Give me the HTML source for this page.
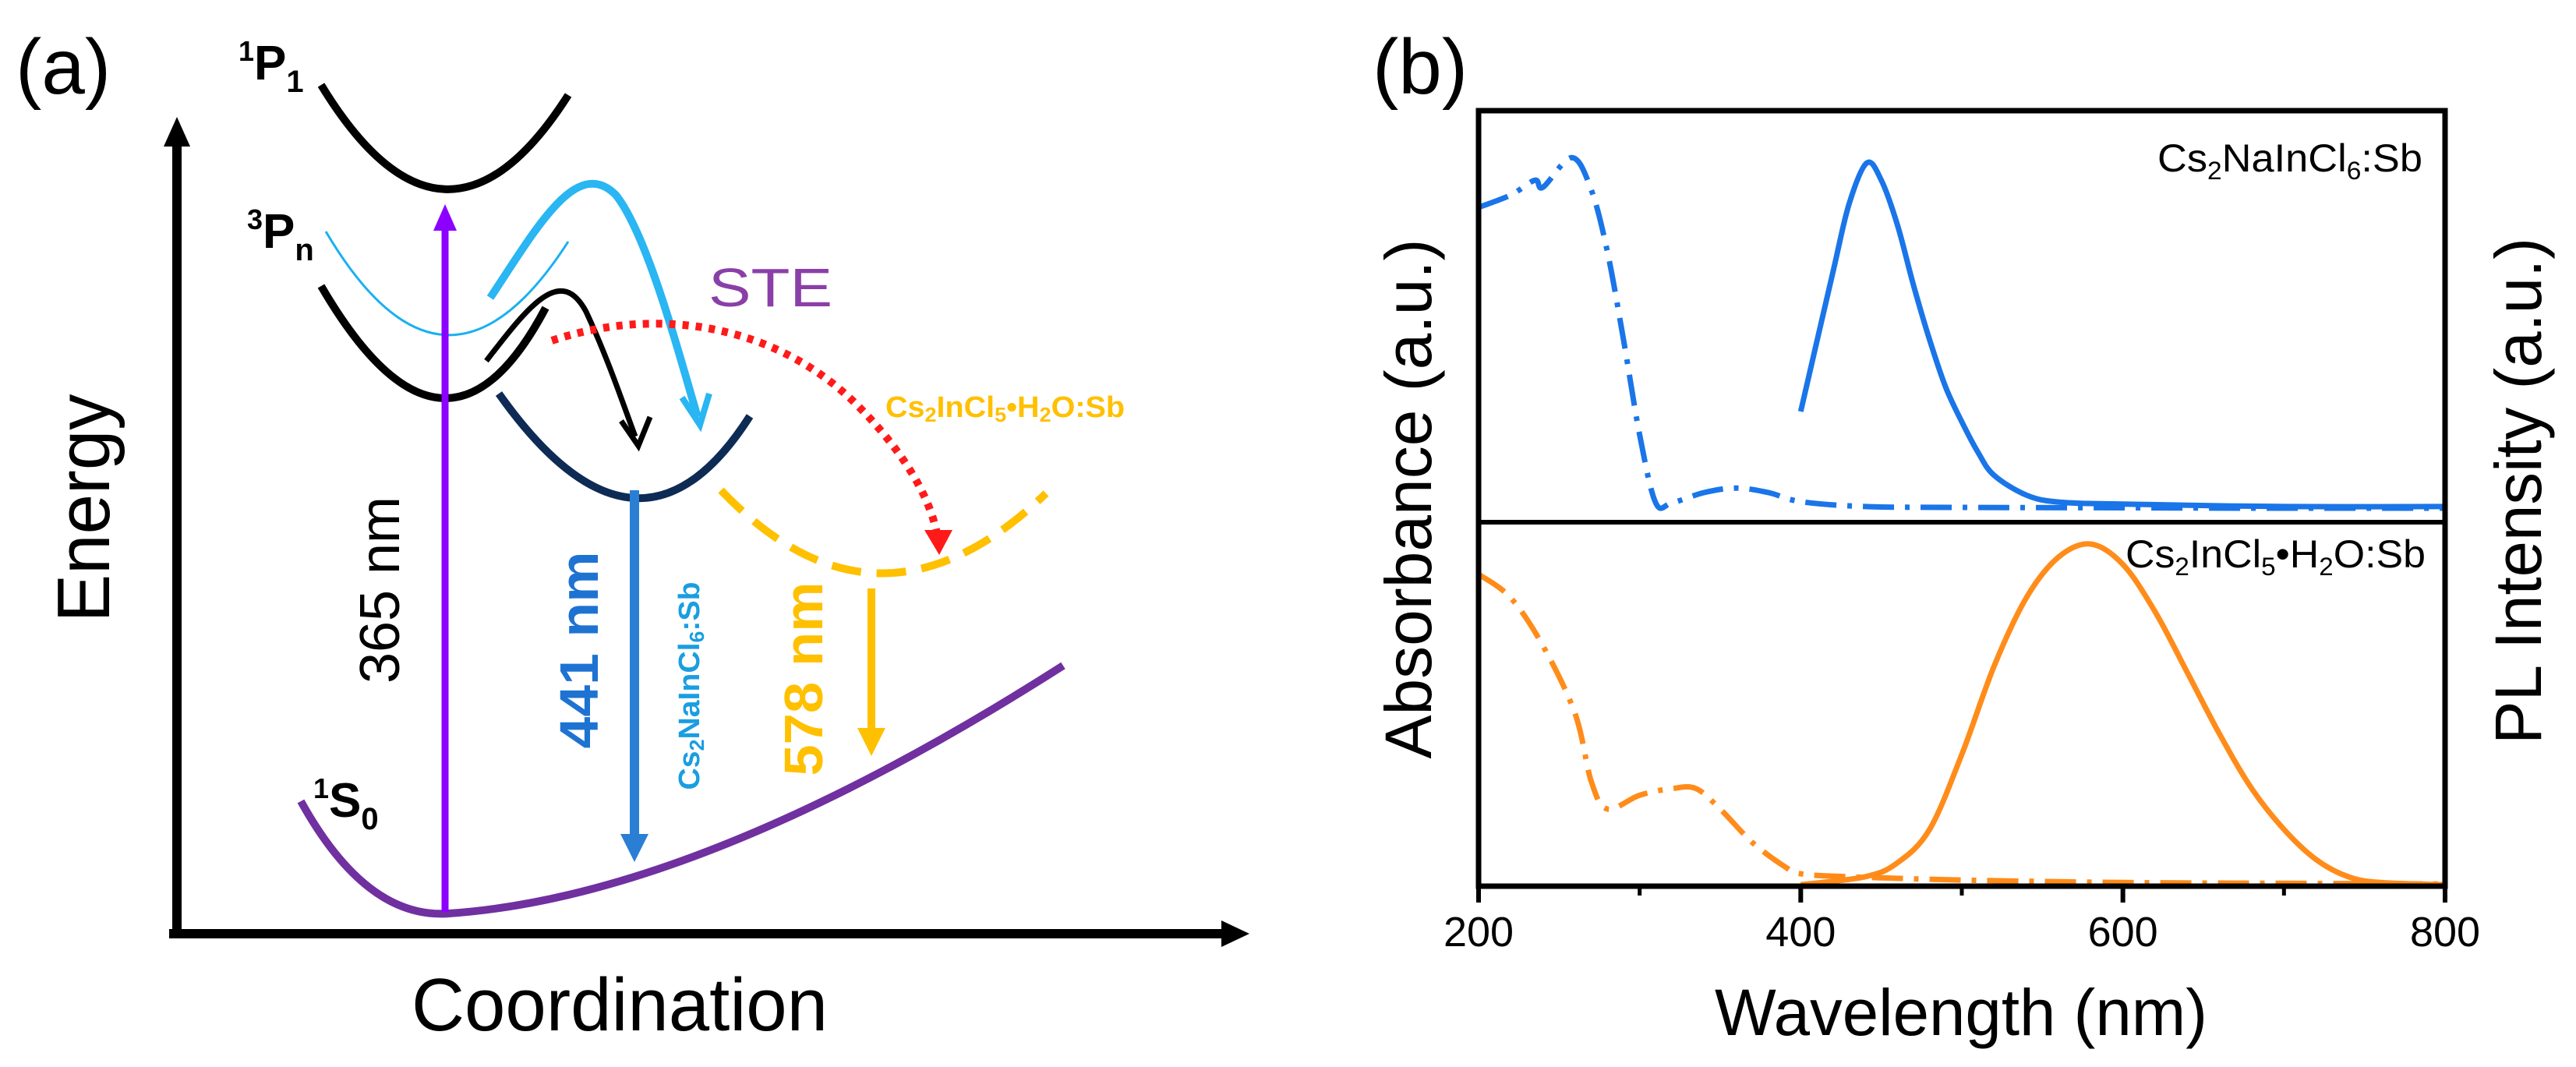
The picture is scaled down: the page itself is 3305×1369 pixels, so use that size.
<!DOCTYPE html>
<html><head><meta charset="utf-8"><style>
html,body{margin:0;padding:0;background:#fff}
svg{display:block}
text{font-family:"Liberation Sans",sans-serif}
</style></head><body>
<svg id="fig" width="3305" height="1369" viewBox="0 0 3305 1369" xmlns="http://www.w3.org/2000/svg">
<defs>
<filter id="glow" x="-50%" y="-10%" width="200%" height="120%"><feGaussianBlur stdDeviation="4"/></filter>
</defs>
<g>
<text x="20" y="120" font-size="100">(a)</text>
<line x1="227" y1="1198" x2="227" y2="180" stroke="#000" stroke-width="12"/>
<polygon points="227,150 210,188 244,188" fill="#000"/>
<line x1="217" y1="1198" x2="1570" y2="1198" stroke="#000" stroke-width="12"/>
<polygon points="1603,1198 1567,1181 1567,1215" fill="#000"/>
<text transform="translate(140,652) rotate(-90)" text-anchor="middle" font-size="96" textLength="293" lengthAdjust="spacingAndGlyphs">Energy</text>
<text x="795" y="1322" text-anchor="middle" font-size="96" textLength="534" lengthAdjust="spacingAndGlyphs">Coordination</text>

<path d="M412,109 Q571,370 729,122" fill="none" stroke="#000" stroke-width="10"/>
<text x="306" y="102" font-size="62" font-weight="bold"><tspan font-size="36" dy="-24">1</tspan><tspan dy="24">P</tspan><tspan font-size="40" dy="16">1</tspan></text>
<path d="M418,297 Q571,556 729,310" fill="none" stroke="#19b0f0" stroke-width="3"/>
<text x="317" y="318" font-size="62" font-weight="bold"><tspan font-size="36" dy="-24">3</tspan><tspan dy="24">P</tspan><tspan font-size="40" dy="16">n</tspan></text>
<path d="M412,367 Q571,640 700,395" fill="none" stroke="#000" stroke-width="10"/>
<path d="M624,463 C680,390 720,340 752,400 C780,460 800,520 815,560" fill="none" stroke="#000" stroke-width="7"/>
<polyline points="797,540 819,572 834,535" fill="none" stroke="#000" stroke-width="7"/>
<path d="M629,382 C690,290 740,200 790,250 C830,300 870,450 895,535" fill="none" stroke="#29b6f2" stroke-width="10"/>
<polyline points="875,510 898,545 910,505" fill="none" stroke="#29b6f2" stroke-width="8"/>
<path d="M640,505 Q819,758 962,534" fill="none" stroke="#0d2b55" stroke-width="10"/>
<path d="M708,437 C850,390 1000,420 1100,520 C1160,580 1195,640 1203,690" fill="none" stroke="#ff1a1a" stroke-width="10" stroke-dasharray="8 9"/>
<polygon points="1205,712 1186,680 1222,680" fill="#ff1a1a"/>
<path d="M925,629 Q1126,840 1342,633" fill="none" stroke="#ffc000" stroke-width="10" stroke-dasharray="38 20"/>
<text x="1136" y="535" font-size="38" font-weight="bold" fill="#ffc000" textLength="307" lengthAdjust="spacingAndGlyphs">Cs<tspan font-size="26" dy="6">2</tspan><tspan dy="-6">InCl</tspan><tspan font-size="26" dy="6">5</tspan><tspan dy="-6">•H</tspan><tspan font-size="26" dy="6">2</tspan><tspan dy="-6">O:Sb</tspan></text>
<text x="909" y="393" font-size="70" fill="#8a3fa8" font-family="DejaVu Sans, sans-serif" textLength="159" lengthAdjust="spacingAndGlyphs">STE</text>

<path d="M386,1028 Q470,1180 576,1172 Q900,1150 1364,854" fill="none" stroke="#7030a0" stroke-width="10"/>
<text x="402" y="1048" font-size="62" font-weight="bold"><tspan font-size="36" dy="-24">1</tspan><tspan dy="24">S</tspan><tspan font-size="40" dy="16">0</tspan></text>
<line x1="571" y1="1170" x2="571" y2="290" stroke="#8b00ff" stroke-width="9"/>
<polygon points="571,262 556,296 586,296" fill="#8b00ff"/>
<text transform="translate(512,757) rotate(-90)" text-anchor="middle" font-size="72" textLength="240" lengthAdjust="spacingAndGlyphs">365 nm</text>
<line x1="814" y1="629" x2="814" y2="1080" stroke="#7fb8ff" stroke-width="24" filter="url(#glow)"/>
<line x1="814" y1="629" x2="814" y2="1075" stroke="#2a7fd4" stroke-width="12"/>
<polygon points="814,1106 796,1070 832,1070" fill="#2a7fd4"/>
<text transform="translate(767,834) rotate(-90)" text-anchor="middle" font-size="70" font-weight="bold" fill="#1e73d2" textLength="253" lengthAdjust="spacingAndGlyphs">441 nm</text>
<text transform="translate(897,880) rotate(-90)" text-anchor="middle" font-size="38" font-weight="bold" fill="#1a9ee0" textLength="267" lengthAdjust="spacingAndGlyphs">Cs<tspan font-size="26" dy="6">2</tspan><tspan dy="-6">NaInCl</tspan><tspan font-size="26" dy="6">6</tspan><tspan dy="-6">:Sb</tspan></text>
<line x1="1118" y1="755" x2="1118" y2="950" stroke="#ffe070" stroke-width="22" filter="url(#glow)"/>
<line x1="1118" y1="755" x2="1118" y2="940" stroke="#ffc000" stroke-width="10"/>
<polygon points="1118,970 1100,934 1136,934" fill="#ffc000"/>
<text transform="translate(1055,871) rotate(-90)" text-anchor="middle" font-size="70" font-weight="bold" fill="#ffc000" textLength="249" lengthAdjust="spacingAndGlyphs">578 nm</text>
</g>

<g>
<text x="1761" y="120" font-size="100">(b)</text>
<g id="plot"></g>
<rect x="1897" y="142" width="1240" height="995" fill="none" stroke="#000" stroke-width="7"/>
<line x1="1897" y1="670" x2="3137" y2="670" stroke="#000" stroke-width="6"/>
<g id="ticks"></g>
<text x="3108" y="220" text-anchor="end" font-size="50" textLength="340" lengthAdjust="spacingAndGlyphs">Cs<tspan font-size="32" dy="10">2</tspan><tspan dy="-10">NaInCl</tspan><tspan font-size="32" dy="10">6</tspan><tspan dy="-10">:Sb</tspan></text>
<text x="3112" y="728" text-anchor="end" font-size="50" textLength="385" lengthAdjust="spacingAndGlyphs">Cs<tspan font-size="32" dy="10">2</tspan><tspan dy="-10">InCl</tspan><tspan font-size="32" dy="10">5</tspan><tspan dy="-10">•H</tspan><tspan font-size="32" dy="10">2</tspan><tspan dy="-10">O:Sb</tspan></text>
<text transform="translate(1836,640) rotate(-90)" text-anchor="middle" font-size="84" textLength="667" lengthAdjust="spacingAndGlyphs">Absorbance (a.u.)</text>
<text transform="translate(3260,630) rotate(-90)" text-anchor="middle" font-size="84" textLength="650" lengthAdjust="spacingAndGlyphs">PL Intensity (a.u.)</text>
<text x="2516" y="1328" text-anchor="middle" font-size="84" textLength="632" lengthAdjust="spacingAndGlyphs">Wavelength (nm)</text>
</g>
</svg>
<script>
const absBlueX=[200,220,235,240,258,270,280,290,300,310,320,340,360,380,400,440,500,600,700,800];
const absBlueY=[0.765,0.795,0.831,0.814,0.886,0.807,0.657,0.443,0.212,0.047,0.047,0.072,0.083,0.072,0.05,0.038,0.036,0.035,0.034,0.034];
const plBlueX=[400,420,430,441,450,460,470,480,490,500,510,520,540,560,600,700,800];
const plBlueY=[0.269,0.608,0.773,0.873,0.831,0.723,0.576,0.443,0.328,0.244,0.170,0.114,0.066,0.049,0.044,0.038,0.038];
const absOrX=[200,220,240,260,270,280,300,320,335,350,370,390,400,430,500,600,700,800];
const absOrY=[0.857,0.792,0.66,0.473,0.287,0.212,0.25,0.268,0.268,0.212,0.12,0.054,0.034,0.026,0.017,0.01,0.008,0.006];
const plOrX=[400,440,460,480,500,520,540,560,580,600,620,640,660,680,700,720,740,760,800];
const plOrY=[0.004,0.026,0.064,0.156,0.362,0.604,0.792,0.904,0.94,0.884,0.754,0.587,0.418,0.268,0.156,0.073,0.026,0.01,0.004];
const xTicks=[200,400,600,800];
const xMinor=[300,500,700];

const NS="http://www.w3.org/2000/svg";
const X0=1897,X1=3137,WMIN=200,WMAX=800;
function xs(w){return X0+(w-WMIN)/(WMAX-WMIN)*(X1-X0);}
function ysTop(v){return 670-v*528;}
function ysBot(v){return 1137-v*467;}
const plot=document.getElementById('plot');
function line(xa,ya,yf,color,dash,name){
  const pts=xa.map((w,i)=>[xs(w),yf(ya[i])]);
  let d='M'+pts[0][0].toFixed(1)+','+pts[0][1].toFixed(1);
  for(let i=0;i<pts.length-1;i++){
    const p0=pts[Math.max(0,i-1)],p1=pts[i],p2=pts[i+1],p3=pts[Math.min(pts.length-1,i+2)];
    const c1x=p1[0]+(p2[0]-p0[0])/6,c1y=p1[1]+(p2[1]-p0[1])/6;
    const c2x=p2[0]-(p3[0]-p1[0])/6,c2y=p2[1]-(p3[1]-p1[1])/6;
    d+='C'+c1x.toFixed(1)+','+c1y.toFixed(1)+' '+c2x.toFixed(1)+','+c2y.toFixed(1)+' '+p2[0].toFixed(1)+','+p2[1].toFixed(1);
  }
  const p=document.createElementNS(NS,'path');
  p.setAttribute('d',d);
  p.setAttribute('fill','none');
  p.setAttribute('stroke',color);
  p.setAttribute('stroke-width','7');
  p.setAttribute('stroke-linejoin','round');
  if(dash)p.setAttribute('stroke-dasharray',dash);
  
  
  plot.appendChild(p);
}
line(absBlueX,absBlueY,ysTop,'#1a75e8','40 14 6 14','absorbance-cs2naincl6');
line(plBlueX,plBlueY,ysTop,'#1a75e8',null,'pl-cs2naincl6');
line(absOrX,absOrY,ysBot,'#ff8c1a','40 14 6 14','absorbance-cs2incl5');
line(plOrX,plOrY,ysBot,'#ff8c1a',null,'pl-cs2incl5');
const tg=document.getElementById('ticks');
xTicks.forEach(w=>{
  const l=document.createElementNS(NS,'line');
  l.setAttribute('x1',xs(w));l.setAttribute('x2',xs(w));
  l.setAttribute('y1',1137);l.setAttribute('y2',1158);
  l.setAttribute('stroke','#000');l.setAttribute('stroke-width','6');
  
  
  tg.appendChild(l);
  const t=document.createElementNS(NS,'text');
  t.setAttribute('x',xs(w));t.setAttribute('y',1214);
  t.setAttribute('text-anchor','middle');t.setAttribute('font-size','54');
  t.textContent=w;
  
  
  tg.appendChild(t);
});
xMinor.forEach(w=>{
  const l=document.createElementNS(NS,'line');
  l.setAttribute('x1',xs(w));l.setAttribute('x2',xs(w));
  l.setAttribute('y1',1137);l.setAttribute('y2',1149);
  l.setAttribute('stroke','#000');l.setAttribute('stroke-width','5');
  
  
  tg.appendChild(l);
});
</script>
</body></html>
